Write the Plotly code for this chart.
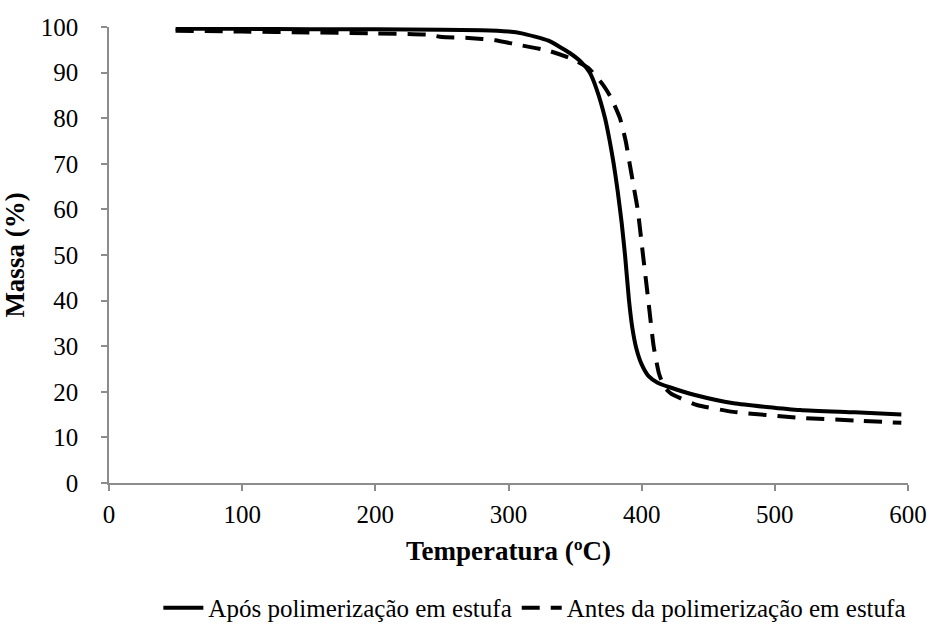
import plotly.graph_objects as go

temp_apos = [50, 100, 150, 200, 250, 280, 300, 310, 330, 346, 355, 361, 366, 372.5, 376, 379, 382, 385, 387.5, 390.5, 393, 396, 400, 405, 412, 421, 440, 469, 519, 560, 595]
massa_apos = [99.6, 99.6, 99.5, 99.5, 99.4, 99.3, 99.0, 98.6, 97.0, 94.3, 92.2, 90.0, 86.5, 80.0, 75.0, 70.0, 64.0, 57.0, 50.0, 40.0, 34.0, 29.5, 26.0, 23.5, 22.0, 21.0, 19.3, 17.5, 16.0, 15.5, 15.0]

temp_antes = [50, 100, 150, 200, 240, 250, 270, 290, 309, 330, 346, 360, 371, 377, 383.7, 388, 391, 394, 397, 401, 405, 409, 413, 417, 422, 429, 441.5, 469, 519, 560, 595]
massa_antes = [99.2, 99.0, 98.8, 98.6, 98.3, 97.8, 97.6, 97.1, 96.0, 94.8, 93.2, 91.0, 87.3, 84.5, 80.0, 75.0, 70.0, 65.0, 60.0, 50.0, 40.0, 30.0, 24.0, 21.0, 19.6, 18.6, 17.1, 15.6, 14.3, 13.7, 13.2]

x_ticks = [0, 100, 200, 300, 400, 500, 600]
y_ticks = [0, 10, 20, 30, 40, 50, 60, 70, 80, 90, 100]

FONT = "Liberation Serif, Times New Roman, Times, serif"

fig = go.Figure()
fig.add_trace(go.Scatter(
    x=temp_apos, y=massa_apos, mode="lines",
    name="Após polimerização em estufa",
    line=dict(color="black", width=4, shape="spline", smoothing=0.5),
))
fig.add_trace(go.Scatter(
    x=temp_antes, y=massa_antes, mode="lines",
    name="Antes da polimerização em estufa",
    line=dict(color="black", width=4, dash="18px,11px", shape="spline", smoothing=0.5),
))

axis_common = dict(
    showline=True, linecolor="#8c8c8c", linewidth=1.5,
    ticks="outside", tickcolor="#8c8c8c", ticklen=6, tickwidth=1.5,
    showgrid=False, zeroline=False,
    tickfont=dict(family=FONT, size=25, color="black"),
)

fig.update_layout(
    width=939, height=633,
    margin=dict(l=109, r=31, t=27, b=150, autoexpand=False),
    paper_bgcolor="white", plot_bgcolor="white",
    font=dict(family=FONT, color="black"),
    xaxis=dict(range=[0, 600], tickvals=x_ticks, **axis_common, ticklabelstandoff=2,
               title=dict(text="<b>Temperatura (ºC)</b>", font=dict(family=FONT, size=27), standoff=14)),
    yaxis=dict(range=[0, 100], tickvals=y_ticks, **axis_common, ticklabelstandoff=18,
               title=dict(text="<b>Massa (%)</b>", font=dict(family=FONT, size=27), standoff=8)),
    showlegend=True,
    legend=dict(orientation="h", x=0.533, xanchor="center", y=-0.274, yanchor="middle",
                font=dict(family=FONT, size=25), itemwidth=40, tracegroupgap=0,
                bgcolor="rgba(0,0,0,0)"),
)

fig.write_html("out.html")
